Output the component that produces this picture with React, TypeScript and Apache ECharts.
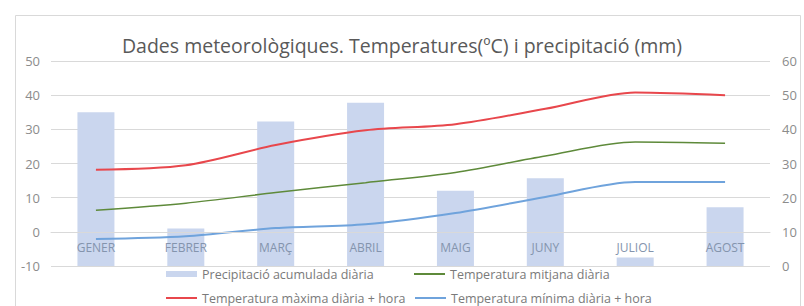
import React, { useEffect, useRef } from "react";
import * as echarts from "echarts";

const categories = ["GENER", "FEBRER", "MARÇ", "ABRIL", "MAIG", "JUNY", "JULIOL", "AGOST"];
const precipitacio = [45, 11, 42.3, 47.8, 22, 25.7, 2.5, 17.2];
const tempMaxima = [18.2, 19.5, 25.4, 29.7, 31.5, 36, 40.8, 40];
const tempMitjana = [6.3, 8.4, 11.5, 14.4, 17.4, 22.2, 26.3, 25.9];
const tempMinima = [-2.1, -1.3, 1.1, 2.2, 5.5, 10.2, 14.6, 14.6];
const leftTicks = { min: -10, max: 50, interval: 10 };
const rightTicks = { min: 0, max: 60, interval: 10 };

const seriesNames = {
  prec: "Precipitació acumulada diària",
  mitj: "Temperatura mitjana diària",
  max: "Temperatura màxima diària + hora",
  min: "Temperatura mínima diària + hora",
};

export default function App() {
  const ref = useRef<HTMLDivElement>(null);
  useEffect(() => {
    if (!ref.current) return;
    const chart = echarts.init(ref.current, null, { renderer: "svg" });
    const font = "Open Sans";
    const legendText = { color: "#7a7a7a", fontSize: 12.5, fontFamily: font, lineHeight: 14 };
    const mkLegend = (name: string, left: number, top: number) => ({
      data: [name],
      left,
      top,
      itemWidth: 31,
      itemHeight: name === seriesNames.prec ? 6 : 2,
      itemGap: 4,
      textStyle: legendText,
      padding: 0,
      icon: "rect",
    });
    const gridTop = 61;
    const gridBottom = 40;
    const gridH = 306 - gridTop - gridBottom;
    chart.setOption({
      animation: false,
      backgroundColor: "#ffffff",
      title: {
        text: "Dades meteorològiques. Temperatures(ºC) i precipitació (mm)",
        left: "center",
        top: 30,
        textStyle: { color: "#595959", fontSize: 19.5, fontWeight: "normal", fontFamily: font },
      },
      graphic: [
        {
          type: "rect",
          shape: { x: 15.5, y: 15.5, width: 785, height: 300 },
          style: { fill: "none", stroke: "#d9d9d9", lineWidth: 1 },
          silent: true,
        },
      ],
      legend: [
        mkLegend(seriesNames.prec, 166, 267),
        mkLegend(seriesNames.mitj, 414, 267),
        mkLegend(seriesNames.max, 166, 291),
        mkLegend(seriesNames.min, 415, 291),
      ],
      grid: { left: 51, right: 34, top: gridTop, bottom: gridBottom, containLabel: false },
      xAxis: {
        type: "category",
        data: categories,
        offset: -gridH / 6,
        axisLine: { onZero: false, lineStyle: { color: "#d9d9d9" } },
        axisTick: { show: false },
        axisLabel: { color: "#8494ad", fontSize: 12, fontFamily: font, margin: 10 },
        z: 5,
      },
      yAxis: [
        {
          type: "value",
          ...leftTicks,
          position: "left",
          axisLine: { show: false },
          axisTick: { show: false },
          axisLabel: { color: "#8c8c8c", fontSize: 13, fontFamily: font, margin: 11 },
          splitLine: { lineStyle: { color: "#d9d9d9", width: 1 } },
        },
        {
          type: "value",
          ...rightTicks,
          position: "right",
          axisLine: { show: false },
          axisTick: { show: false },
          axisLabel: { color: "#8c8c8c", fontSize: 13, fontFamily: font, margin: 12 },
          splitLine: { show: false },
        },
      ],
      series: [
        {
          name: seriesNames.prec,
          type: "bar",
          yAxisIndex: 1,
          data: precipitacio,
          barWidth: 37,
          itemStyle: { color: "#cad6ee" },
          z: 1,
        },
        {
          name: seriesNames.mitj,
          type: "line",
          yAxisIndex: 0,
          data: tempMitjana,
          smooth: 0.3,
          symbol: "none",
          lineStyle: { color: "#5e8a3a", width: 1.5 },
          itemStyle: { color: "#5e8a3a" },
          z: 3,
        },
        {
          name: seriesNames.max,
          type: "line",
          yAxisIndex: 0,
          data: tempMaxima,
          smooth: 0.3,
          symbol: "none",
          lineStyle: { color: "#e8474c", width: 2 },
          itemStyle: { color: "#e8474c" },
          z: 3,
        },
        {
          name: seriesNames.min,
          type: "line",
          yAxisIndex: 0,
          data: tempMinima,
          smooth: 0.3,
          symbol: "none",
          lineStyle: { color: "#6fa3dc", width: 2 },
          itemStyle: { color: "#6fa3dc" },
          z: 3,
        },
      ],
    });
    return () => chart.dispose();
  }, []);
  return (
    <div
      ref={ref}
      style={{ position: "fixed", left: 0, top: 0, width: 804, height: 306 }}
    />
  );
}
